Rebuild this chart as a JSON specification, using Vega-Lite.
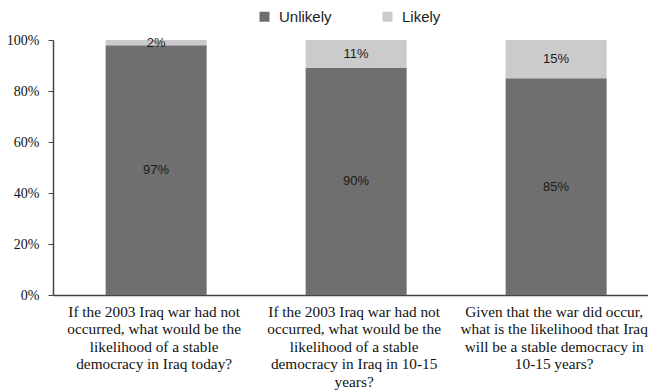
{
  "$schema": "https://vega.github.io/schema/vega-lite/v6.json",
  "width": 595,
  "height": 255,
  "autosize": {"type": "none"},
  "padding": {"left": 53, "top": 40, "right": 0, "bottom": 97},
  "background": "white",
  "config": {
    "view": {"stroke": null},
    "font": "Liberation Serif"
  },
  "data": {
    "values": [
      {"question": "If the 2003 Iraq war had not\noccurred, what would be the\nlikelihood of a stable\ndemocracy in Iraq today?", "answer": "Unlikely", "share": 0.97},
      {"question": "If the 2003 Iraq war had not\noccurred, what would be the\nlikelihood of a stable\ndemocracy in Iraq today?", "answer": "Likely", "share": 0.02},
      {"question": "If the 2003 Iraq war had not\noccurred, what would be the\nlikelihood of a stable\ndemocracy in Iraq in 10-15\nyears?", "answer": "Unlikely", "share": 0.90},
      {"question": "If the 2003 Iraq war had not\noccurred, what would be the\nlikelihood of a stable\ndemocracy in Iraq in 10-15\nyears?", "answer": "Likely", "share": 0.11},
      {"question": "Given that the war did occur,\nwhat is the likelihood that Iraq\nwill be a stable democracy in\n10-15 years?", "answer": "Unlikely", "share": 0.85},
      {"question": "Given that the war did occur,\nwhat is the likelihood that Iraq\nwill be a stable democracy in\n10-15 years?", "answer": "Likely", "share": 0.15}
    ]
  },
  "transform": [
    {
      "stack": "share",
      "groupby": ["question"],
      "offset": "normalize",
      "sort": [{"field": "answer", "order": "descending"}],
      "as": ["y0", "y1"]
    }
  ],
  "encoding": {
    "x": {
      "field": "question",
      "type": "nominal",
      "sort": null,
      "title": null,
      "scale": {"paddingInner": 0.495, "paddingOuter": 0.235, "align": 0.56},
      "axis": {
        "labelAngle": 0,
        "labelExpr": "split(datum.label, '\\n')",
        "labelFont": "Liberation Serif",
        "labelFontSize": 15.3,
        "labelLineHeight": 17.5,
        "labelColor": "#111111",
        "labelPadding": 9,
        "labelOffset": -2,
        "labelLimit": 0,
        "ticks": false,
        "domainColor": "#444444",
        "domainWidth": 1.5
      }
    }
  },
  "layer": [
    {
      "mark": {"type": "bar"},
      "encoding": {
        "y": {
          "field": "y0",
          "type": "quantitative",
          "title": null,
          "scale": {"domain": [0, 1]},
          "axis": {
            "values": [0, 0.2, 0.4, 0.6, 0.8, 1],
            "format": ".0%",
            "grid": false,
            "labelFont": "Liberation Serif",
            "labelFontSize": 14,
            "labelColor": "#111111",
            "labelPadding": 9,
            "tickSize": 5,
            "tickColor": "#444444",
            "domainColor": "#444444",
            "domainWidth": 1.5
          }
        },
        "y2": {"field": "y1"},
        "color": {
          "field": "answer",
          "type": "nominal",
          "scale": {"domain": ["Unlikely", "Likely"], "range": ["#6f6f6f", "#cbcbcb"]},
          "legend": {
            "title": null,
            "orient": "none",
            "direction": "horizontal",
            "legendX": 204,
            "legendY": -31,
            "symbolType": "square",
            "symbolSize": 100,
            "symbolStrokeWidth": 0,
            "labelFont": "Liberation Sans",
            "labelFontSize": 15,
            "labelColor": "#222222",
            "labelOffset": 7,
            "columnPadding": 48
          }
        }
      }
    },
    {
      "transform": [
        {"fold": ["y0", "y1"], "as": ["edge", "pos"]},
        {"aggregate": [{"op": "mean", "field": "pos", "as": "mid"}], "groupby": ["question", "answer", "share"]}
      ],
      "mark": {"type": "text", "font": "Liberation Sans", "fontSize": 13, "color": "#1a1a1a", "baseline": "middle"},
      "encoding": {
        "y": {"field": "mid", "type": "quantitative"},
        "text": {"field": "share", "type": "quantitative", "format": ".0%"}
      }
    }
  ]
}
